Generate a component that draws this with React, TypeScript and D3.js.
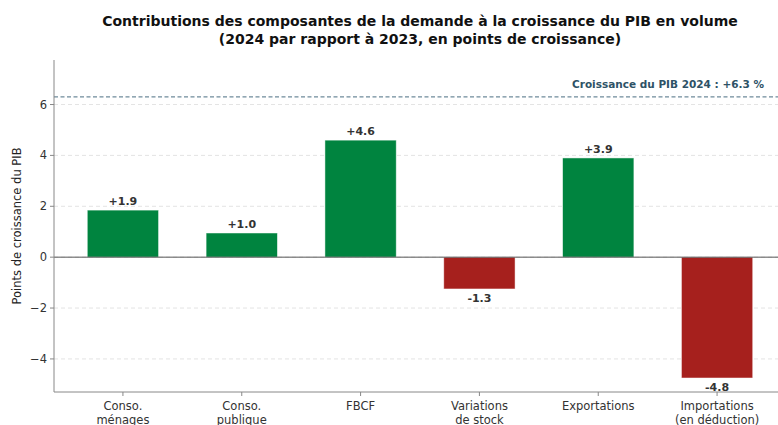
import { useEffect, useRef } from 'react';
import * as d3 from 'd3';

const categories = [
  ['Conso.', 'ménages'],
  ['Conso.', 'publique'],
  ['FBCF'],
  ['Variations', 'de stock'],
  ['Exportations'],
  ['Importations', '(en déduction)']
];
const contributions = [1.85, 0.95, 4.6, -1.25, 3.9, -4.75];
const valueLabels = ['+1.9', '+1.0', '+4.6', '-1.3', '+3.9', '-4.8'];
const yTicks = [-4, -2, 0, 2, 4, 6];
const gdpGrowth = 6.3;

const W = 778;
const H = 425;
const FONT = 'DejaVu Sans, sans-serif';

function App(): JSX.Element {
  const svgRef = useRef<SVGSVGElement | null>(null);

  useEffect(() => {
    if (!svgRef.current) return;
    svgRef.current.innerHTML = '';
    const svg = d3.select(svgRef.current);

    const left = 54;
    const top = 60;
    const bottom = 392;

    const y = d3.scaleLinear().domain([-5.3, 7.75]).range([bottom, top]);
    // x in bar index units, right side clipped by figure edge
    const x = d3.scaleLinear().domain([-0.58, 5.58]).range([left, left + 732]);
    const barW = x(0.6) - x(0);

    // grid
    yTicks.forEach((t) => {
      svg
        .append('line')
        .attr('x1', left)
        .attr('x2', W)
        .attr('y1', y(t))
        .attr('y2', y(t))
        .attr('stroke', '#dcdcdc')
        .attr('stroke-width', 0.8)
        .attr('stroke-dasharray', '4,3');
    });

    // bars
    contributions.forEach((v, i) => {
      svg
        .append('rect')
        .attr('x', x(i) - barW / 2)
        .attr('y', y(Math.max(0, v)))
        .attr('width', barW)
        .attr('height', Math.abs(y(v) - y(0)))
        .attr('fill', v >= 0 ? '#00843f' : '#a6201d')
        .attr('stroke', 'white')
        .attr('stroke-opacity', 0.6)
        .attr('stroke-width', 0.8);

      svg
        .append('text')
        .attr('x', x(i))
        .attr('y', v >= 0 ? y(v) - 5 : y(v) + 13)
        .attr('text-anchor', 'middle')
        .attr('font-family', FONT)
        .attr('font-size', 11)
        .attr('font-weight', 'bold')
        .attr('fill', '#333')
        .text(valueLabels[i]);
    });

    // zero line
    svg
      .append('line')
      .attr('x1', left)
      .attr('x2', W)
      .attr('y1', y(0))
      .attr('y2', y(0))
      .attr('stroke', '#555')
      .attr('stroke-width', 1);

    // GDP growth line
    svg
      .append('line')
      .attr('x1', left)
      .attr('x2', W)
      .attr('y1', y(gdpGrowth))
      .attr('y2', y(gdpGrowth))
      .attr('stroke', '#6f8b9b')
      .attr('stroke-width', 1.2)
      .attr('stroke-dasharray', '4,2.5');

    svg
      .append('text')
      .attr('x', 764)
      .attr('y', y(gdpGrowth) - 9)
      .attr('text-anchor', 'end')
      .attr('font-family', FONT)
      .attr('font-size', 10.5)
      .attr('font-weight', 'bold')
      .attr('fill', '#2e5266')
      .text(`Croissance du PIB 2024 : +${gdpGrowth} %`);

    // spines
    svg
      .append('line')
      .attr('x1', left)
      .attr('x2', left)
      .attr('y1', top)
      .attr('y2', bottom)
      .attr('stroke', '#888')
      .attr('stroke-width', 1);
    svg
      .append('line')
      .attr('x1', left)
      .attr('x2', W)
      .attr('y1', bottom)
      .attr('y2', bottom)
      .attr('stroke', '#888')
      .attr('stroke-width', 1);

    // y ticks
    yTicks.forEach((t) => {
      svg
        .append('line')
        .attr('x1', left - 4)
        .attr('x2', left)
        .attr('y1', y(t))
        .attr('y2', y(t))
        .attr('stroke', '#888');
      svg
        .append('text')
        .attr('x', left - 7)
        .attr('y', y(t) + 4)
        .attr('text-anchor', 'end')
        .attr('font-family', FONT)
        .attr('font-size', 11.5)
        .attr('fill', '#333')
        .text(t < 0 ? `\u2212${Math.abs(t)}` : `${t}`);
    });

    // x ticks
    categories.forEach((lines, i) => {
      svg
        .append('line')
        .attr('x1', x(i))
        .attr('x2', x(i))
        .attr('y1', bottom)
        .attr('y2', bottom + 4)
        .attr('stroke', '#888');
      const txt = svg
        .append('text')
        .attr('text-anchor', 'middle')
        .attr('font-family', FONT)
        .attr('font-size', 11.5)
        .attr('fill', '#333');
      lines.forEach((l, j) => {
        txt
          .append('tspan')
          .attr('x', x(i))
          .attr('y', bottom + 18 + j * 14)
          .text(l);
      });
    });

    // y label
    svg
      .append('text')
      .attr('transform', `translate(21,${(top + bottom) / 2}) rotate(-90)`)
      .attr('text-anchor', 'middle')
      .attr('font-family', FONT)
      .attr('font-size', 11.5)
      .attr('fill', '#222')
      .text('Points de croissance du PIB');

    // title
    const title = svg
      .append('text')
      .attr('text-anchor', 'middle')
      .attr('font-family', FONT)
      .attr('font-size', 14)
      .attr('font-weight', 'bold')
      .attr('fill', '#111');
    ['Contributions des composantes de la demande à la croissance du PIB en volume',
      '(2024 par rapport à 2023, en points de croissance)'].forEach((l, j) => {
      title
        .append('tspan')
        .attr('x', 420)
        .attr('y', 26 + j * 18)
        .text(l);
    });
  }, []);

  return (
    <div style={{ position: 'absolute', left: 0, top: 0 }}>
      <svg ref={svgRef} width={W} height={H} style={{ display: 'block' }} />
    </div>
  );
}

export default App;
